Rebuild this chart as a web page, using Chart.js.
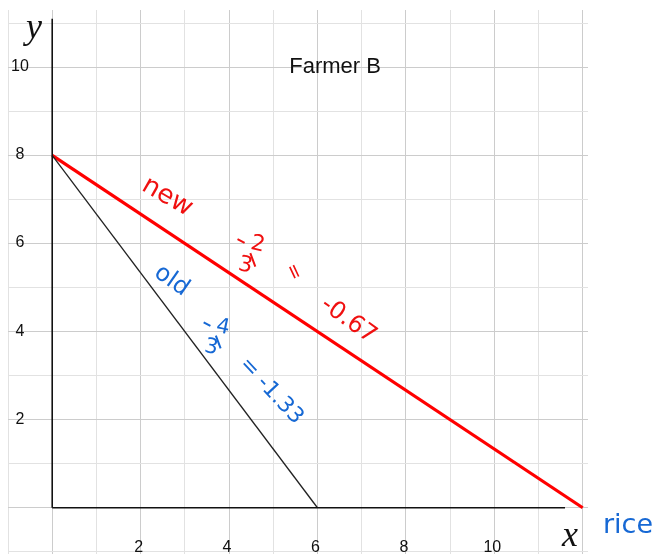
<!DOCTYPE html>
<html lang="en">
<head>
<meta charset="UTF-8">
<title>Farmer B</title>
<style>
  html, body { margin: 0; padding: 0; background: #fff; }
  canvas { display: block; }
</style>
</head>
<body>
<canvas id="farmerChart" width="660" height="554"></canvas>
<script src="https://cdn.jsdelivr.net/npm/chart.js"></script>
<script>
// production possibilities, x = rice, y = other good
const oldX = [0, 6];
const oldY = [8, 0];
const newX = [0, 12];
const newY = [8, 0];

// labelled ticks
const xTickLabels = [2, 4, 6, 8, 10];
const yTickLabels = [2, 4, 6, 8, 10];

// how far the drawn axes run
const xAxisX = [0, 11.6];
const xAxisY = [0, 0];
const yAxisX = [0, 0];
const yAxisY = [0, 11.1];

const chartTitle = 'Farmer B';

// handwritten notes (positions in data units)
const notes = [
  { text: 'new', x: 2.6, y: 7.05, angle: 30, color: '#f01010', size: 26 },
  { frac: ['2', '3'], x: 4.5, y: 5.75, angle: 12, color: '#f01010', size: 22 },
  { text: '=', x: 5.45, y: 5.35, angle: 65, color: '#f01010', size: 20 },
  { text: '-0.67', x: 6.7, y: 4.25, angle: 36, color: '#f01010', size: 24 },
  { text: 'old', x: 2.7, y: 5.15, angle: 35, color: '#1668d4', size: 24 },
  { frac: ['4', '3'], x: 3.72, y: 3.88, angle: 12, color: '#1668d4', size: 21 },
  { text: '= -1.33', x: 4.95, y: 2.65, angle: 47, color: '#1668d4', size: 22 }
];

function toPoints(xs, ys) {
  return xs.map((x, i) => ({ x: x, y: ys[i] }));
}

const overlay = {
  id: 'overlay',
  afterDatasetsDraw(chart) {
    const ctx = chart.ctx;
    const xs = chart.scales.x;
    const ys = chart.scales.y;
    ctx.save();

    // tick labels
    ctx.fillStyle = '#111';
    ctx.font = '16px "Liberation Sans", Arial, sans-serif';
    ctx.textAlign = 'center';
    ctx.textBaseline = 'alphabetic';
    yTickLabels.forEach(v => {
      ctx.fillText(String(v), 20, ys.getPixelForValue(v) + 4);
    });
    xTickLabels.forEach(v => {
      ctx.fillText(String(v), xs.getPixelForValue(v) - 2, 552);
    });

    // title
    ctx.font = '22px "Liberation Sans", Arial, sans-serif';
    ctx.fillText(chartTitle, xs.getPixelForValue(6.4), 73);

    // axis letters
    ctx.font = 'italic 36px "Liberation Serif", "DejaVu Serif", serif';
    ctx.fillText('y', 34, 38);
    ctx.fillText('x', 570, 546);

    ctx.font = '27px "DejaVu Sans", sans-serif';
    ctx.fillStyle = '#1668d4';
    ctx.textAlign = 'left';
    ctx.fillText('rice', 603, 533);

    // handwritten notes
    notes.forEach(n => {
      ctx.save();
      ctx.translate(xs.getPixelForValue(n.x), ys.getPixelForValue(n.y));
      ctx.rotate(n.angle * Math.PI / 180);
      ctx.fillStyle = n.color;
      ctx.strokeStyle = n.color;
      ctx.textAlign = 'center';
      ctx.textBaseline = 'middle';
      ctx.font = n.size + 'px "DejaVu Sans", sans-serif';
      if (n.frac) {
        const s = n.size;
        ctx.fillText(n.frac[0], s * 0.2, -s * 0.5);
        ctx.fillText(n.frac[1], -s * 0.15, s * 0.55);
        ctx.lineWidth = 2;
        ctx.beginPath();
        ctx.moveTo(-s * 0.75, -s * 0.55);
        ctx.lineTo(-s * 0.4, -s * 0.45);
        ctx.moveTo(-s * 0.05, -s * 0.05);
        ctx.lineTo(s * 0.3, s * 0.5);
        ctx.stroke();
      } else {
        ctx.fillText(n.text, 0, 0);
      }
      ctx.restore();
    });

    ctx.restore();
  }
};

function gridColor(c) {
  const v = c.tick ? c.tick.value : 0;
  return Math.round(v) % 2 === 0 ? '#cccccc' : '#e2e2e2';
}

new Chart(document.getElementById('farmerChart'), {
  type: 'scatter',
  data: {
    datasets: [
      {
        label: 'x axis',
        data: toPoints(xAxisX, xAxisY),
        showLine: true,
        borderColor: '#111',
        borderWidth: 1.6,
        pointRadius: 0
      },
      {
        label: 'y axis',
        data: toPoints(yAxisX, yAxisY),
        showLine: true,
        borderColor: '#111',
        borderWidth: 1.6,
        pointRadius: 0
      },
      {
        label: 'old',
        data: toPoints(oldX, oldY),
        showLine: true,
        borderColor: '#222',
        borderWidth: 1.3,
        pointRadius: 0
      },
      {
        label: 'new',
        data: toPoints(newX, newY),
        showLine: true,
        borderColor: '#ff0000',
        borderWidth: 3.2,
        pointRadius: 0
      }
    ]
  },
  options: {
    responsive: false,
    animation: false,
    layout: { padding: { left: 8, top: 10, right: 72, bottom: 0 } },
    plugins: {
      legend: { display: false },
      tooltip: { enabled: false }
    },
    scales: {
      x: {
        type: 'linear',
        min: -1,
        max: 12.12,
        ticks: { display: false, stepSize: 1, includeBounds: false },
        grid: { color: gridColor, drawTicks: false, lineWidth: 1 },
        border: { display: false }
      },
      y: {
        type: 'linear',
        min: -1.05,
        max: 11.3,
        ticks: { display: false, stepSize: 1, includeBounds: false },
        grid: { color: gridColor, drawTicks: false, lineWidth: 1 },
        border: { display: false }
      }
    }
  },
  plugins: [overlay]
});
</script>
</body>
</html>
